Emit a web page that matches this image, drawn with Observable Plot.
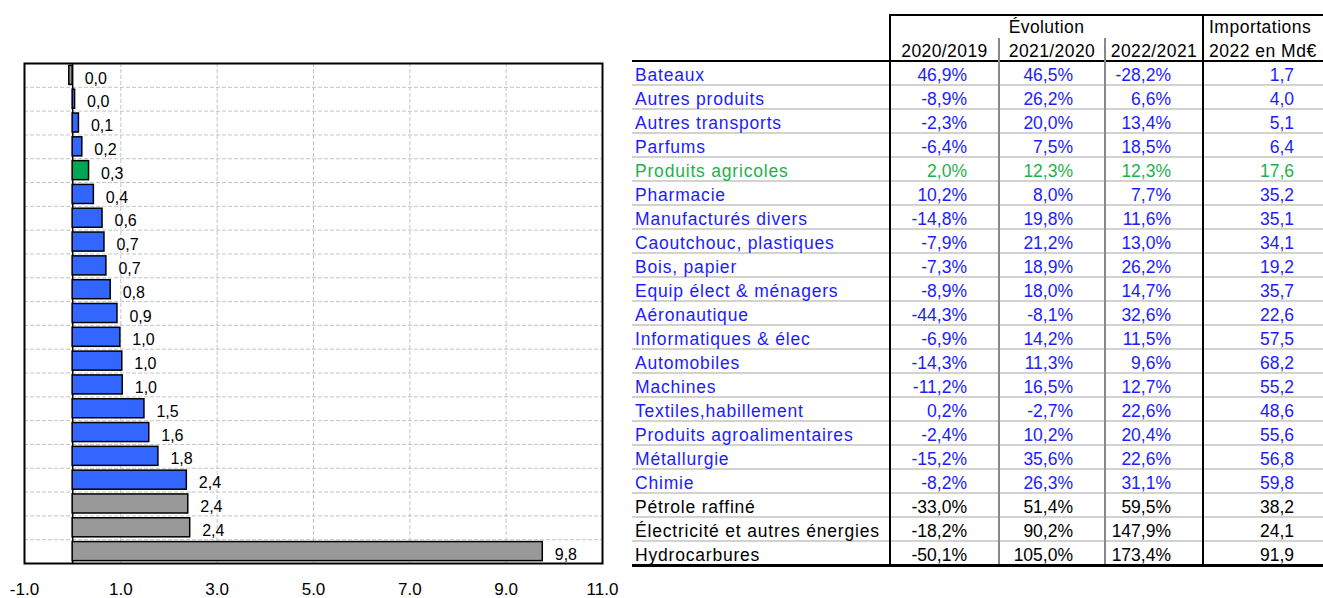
<!DOCTYPE html>
<html>
<head>
<meta charset="utf-8">
<script src="https://cdn.jsdelivr.net/npm/d3@7"></script>
<script src="https://cdn.jsdelivr.net/npm/@observablehq/plot@0.6"></script>
<style>
  body { margin: 0; background: #fff; }
  #wrap { position: relative; width: 1323px; height: 598px; overflow: hidden; font-family: "Liberation Sans", Arial, sans-serif; }
  #chart { position: absolute; left: 0; top: 0; }
  #tbl { position: absolute; left: 632px; top: 14px; border-collapse: collapse; table-layout: fixed; font-size: 17.5px; }
  #tbl td { padding: 4px 0 0 0; height: 18px; line-height: 18px; white-space: nowrap; overflow: visible; }
  #tbl tr.top td { padding-top: 0; height: 22px; line-height: 22px; }
  #tbl .lab { padding-left: 3px; text-align: left; letter-spacing: 0.8px; }
  #tbl .num { text-align: right; padding-right: 31px; }
  #tbl .hc { text-align: center; letter-spacing: 0.4px; }
  #tbl .hl { text-align: left; padding-left: 5px; letter-spacing: 0.5px; }
</style>
</head>
<body>
<div id="wrap">
  <div id="chart"></div>
  <table id="tbl"></table>
</div>
<script>
// ---- data ----
const categories = ["Bateaux","Autres produits","Autres transports","Parfums","Produits agricoles","Pharmacie","Manufacturés divers","Caoutchouc, plastiques","Bois, papier","Equip élect & ménagers","Aéronautique","Informatiques & élec","Automobiles","Machines","Textiles,habillement","Produits agroalimentaires","Métallurgie","Chimie","Pétrole raffiné","Électricité et autres énergies","Hydrocarbures"];
const barValues = [-0.07, 0.05, 0.13, 0.2, 0.34, 0.44, 0.62, 0.66, 0.7, 0.79, 0.93, 0.99, 1.03, 1.04, 1.49, 1.59, 1.78, 2.37, 2.4, 2.44, 9.76];
const barLabels = ["0,0","0,0","0,1","0,2","0,3","0,4","0,6","0,7","0,7","0,8","0,9","1,0","1,0","1,0","1,5","1,6","1,8","2,4","2,4","2,4","9,8"];
const barGroups = ["énergie","autre","autre","autre","agri","autre","autre","autre","autre","autre","autre","autre","autre","autre","autre","autre","autre","autre","énergie","énergie","énergie"];
const textGroups = ["autre","autre","autre","autre","agri","autre","autre","autre","autre","autre","autre","autre","autre","autre","autre","autre","autre","autre","énergie","énergie","énergie"];
const evol2020 = [46.9,-8.9,-2.3,-6.4,2.0,10.2,-14.8,-7.9,-7.3,-8.9,-44.3,-6.9,-14.3,-11.2,0.2,-2.4,-15.2,-8.2,-33.0,-18.2,-50.1];
const evol2021 = [46.5,26.2,20.0,7.5,12.3,8.0,19.8,21.2,18.9,18.0,-8.1,14.2,11.3,16.5,-2.7,10.2,35.6,26.3,51.4,90.2,105.0];
const evol2022 = [-28.2,6.6,13.4,18.5,12.3,7.7,11.6,13.0,26.2,14.7,32.6,11.5,9.6,12.7,22.6,20.4,22.6,31.1,59.5,147.9,173.4];
const imports2022 = [1.7,4.0,5.1,6.4,17.6,35.2,35.1,34.1,19.2,35.7,22.6,57.5,68.2,55.2,48.6,55.6,56.8,59.8,38.2,24.1,91.9];
const xTicks = [-1, 1, 3, 5, 7, 9, 11];
const gridX = [1, 3, 5, 7, 9];
const headerTop = ["Évolution", "Importations"];
const headerBottom = ["2020/2019", "2021/2020", "2022/2021", "2022 en Md€"];

const groupDomain = ["autre", "agri", "énergie"];
const barColors = ["#3366ff", "#00a651", "#999999"];
const textColors = ["#1c1cff", "#1fb04c", "#000000"];

// ---- chart ----
const rows = categories.map((c, i) => ({cat: c, value: barValues[i], label: barLabels[i], group: barGroups[i]}));
const W = 632, H = 598, mt = 63, mb = 35, ml = 24, mr = 30;
const step = (H - mt - mb) / categories.length;

const chart = Plot.plot({
  width: W, height: H,
  marginTop: mt, marginBottom: mb, marginLeft: ml, marginRight: mr,
  style: {fontFamily: "'Liberation Sans', Arial, sans-serif", background: "transparent", color: "black", overflow: "visible"},
  x: {domain: [-1, 11], axis: null},
  y: {domain: categories, paddingInner: 0.2, paddingOuter: 0.1, round: false, axis: null},
  color: {domain: groupDomain, range: barColors},
  marks: [
    Plot.ruleY(categories.slice(1), {y: d => d, dy: -step / 2, stroke: "#c4c4c4", strokeDasharray: "4,2"}),
    Plot.ruleX(gridX, {stroke: "#c4c4c4", strokeDasharray: "4,2"}),
    Plot.ruleX([0], {stroke: "black", strokeWidth: 1.5}),
    Plot.barX(rows, {x: "value", y: "cat", fill: "group", stroke: "black", strokeWidth: 1.5}),
    Plot.text(rows, {x: d => Math.max(0, d.value), y: "cat", text: "label", textAnchor: "start", dx: 12, dy: 3, fontSize: 16, fill: "black"}),
    Plot.frame({stroke: "black", strokeWidth: 2}),
    Plot.axisX({ticks: xTicks, tickFormat: d => d.toFixed(1), tickSize: 0, tickPadding: 19, fontSize: 17, label: null})
  ]
});
document.getElementById("chart").appendChild(chart);

// ---- table ----
const pct = v => v.toFixed(1).replace(".", ",") + "%";
const num = v => v.toFixed(1).replace(".", ",");
const colorOf = g => textColors[groupDomain.indexOf(g)];
const BK = "2px solid #000", GR = "2px solid #888", LG = "2px solid #d2d2d2";

let html = `<colgroup><col style="width:258px"><col style="width:109px"><col style="width:106px"><col style="width:98px"><col style="width:120px"></colgroup>`;
html += `<tr class="top"><td></td><td colspan="3" class="hc" style="border-left:${BK};border-top:${BK}">${headerTop[0]}</td><td class="hl" style="border-left:${BK};border-top:${BK}">${headerTop[1]}</td></tr>`;
html += `<tr style="border-bottom:${BK}"><td></td>` +
  `<td class="hc" style="border-left:${BK}">${headerBottom[0]}</td>` +
  `<td class="hc" style="border-left:${GR}">${headerBottom[1]}</td>` +
  `<td class="hc" style="border-left:${GR}">${headerBottom[2]}</td>` +
  `<td class="hl" style="border-left:${BK}">${headerBottom[3]}</td></tr>`;
categories.forEach((c, i) => {
  const col = colorOf(textGroups[i]);
  const last = i === categories.length - 1;
  const bb = last ? "border-bottom:3px solid #000;" : `border-bottom:${LG};`;
  html += `<tr style="color:${col};${bb}">` +
    `<td class="lab">${c}</td>` +
    `<td class="num" style="border-left:${BK}">${pct(evol2020[i])}</td>` +
    `<td class="num" style="border-left:${GR}">${pct(evol2021[i])}</td>` +
    `<td class="num" style="border-left:${GR}">${pct(evol2022[i])}</td>` +
    `<td class="num" style="border-left:${BK};padding-right:29px">${num(imports2022[i])}</td></tr>`;
});
document.getElementById("tbl").innerHTML = html;
</script>
</body>
</html>
